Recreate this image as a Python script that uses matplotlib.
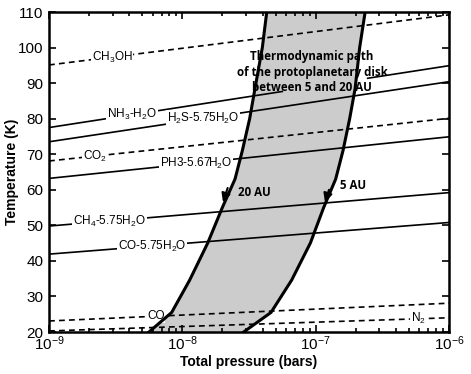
import numpy as np
import matplotlib
matplotlib.use("Agg")
import matplotlib.pyplot as plt
from matplotlib.ticker import LogLocator, MultipleLocator, NullFormatter

# condensation curves: straight lines in log P, given by T at 1e-9 and 1e-6 bar
LINE_LABELS = [
    r"CH$_3$OH",
    r"NH$_3$-H$_2$O",
    r"H$_2$S-5.75H$_2$O",
    r"CO$_2$",
    r"PH3-5.67H$_2$O",
    r"CH$_4$-5.75H$_2$O",
    r"CO-5.75H$_2$O",
    r"CO",
    r"N$_2$",
]
T_AT_LEFT = [95.1, 77.5, 73.5, 68.1, 63.2, 49.8, 41.9, 23.1, 20.3]
T_AT_RIGHT = [109.2, 94.9, 90.4, 80.1, 74.9, 59.2, 50.8, 28.1, 24.0]
DASHED = [True, False, False, True, False, False, False, True, True]
LABEL_LOGP = [-8.527, -8.377, -7.845, -8.655, -7.897, -8.546, -8.227, -8.2, -6.232]

# disk thermodynamic paths
PATH_T = [20, 25.5, 34.6, 45, 55, 63, 71, 80, 88.5, 100, 110]
LOGP_20AU = [-8.25, -8.08, -7.945, -7.81, -7.70, -7.605, -7.55, -7.495, -7.455, -7.40, -7.367]
LOGP_5AU = [-7.54, -7.335, -7.18, -7.04, -6.94, -6.85, -6.795, -6.745, -6.704, -6.67, -6.629]

LOGP_MIN, LOGP_MAX = -9.0, -6.0
FILL_COLOR = "#cccccc"

plt.rcParams.update(
    {
        "font.family": ["Liberation Sans", "DejaVu Sans"],
        "mathtext.fontset": "custom",
        "mathtext.rm": "Liberation Sans",
        "mathtext.it": "Liberation Sans:italic",
        "mathtext.bf": "Liberation Sans:bold",
        "mathtext.default": "regular",
        "font.size": 10,
    }
)


def line_T(i, logp):
    frac = (np.asarray(logp) - LOGP_MIN) / (LOGP_MAX - LOGP_MIN)
    return T_AT_LEFT[i] + (T_AT_RIGHT[i] - T_AT_LEFT[i]) * frac


fig = plt.figure(figsize=(4.71, 3.74), dpi=100)
ax = fig.add_axes([49 / 471, 1 - 332 / 374, 400 / 471, 320 / 374])

# shaded band between the two paths
poly_p = [10 ** v for v in LOGP_20AU] + [10 ** v for v in LOGP_5AU[::-1]]
poly_t = PATH_T + PATH_T[::-1]
ax.fill(poly_p, poly_t, color=FILL_COLOR, lw=0, zorder=1)

# condensation lines
for i, label in enumerate(LINE_LABELS):
    style = dict(color="black", lw=1.2, zorder=2)
    if DASHED[i]:
        style["dashes"] = (3.5, 2.5)
    if i == 1:
        # NH3 line passes behind the annotation text
        segments = [(LOGP_MIN, -7.25), (-6.61, LOGP_MAX)]
    else:
        segments = [(LOGP_MIN, LOGP_MAX)]
    for a, b in segments:
        ax.plot([10 ** a, 10 ** b], [line_T(i, a), line_T(i, b)], **style)
    ax.text(
        10 ** LABEL_LOGP[i], line_T(i, LABEL_LOGP[i]), label,
        ha="center", va="center", fontsize=8.5, zorder=3,
        bbox=dict(facecolor="white", edgecolor="none", pad=0.5),
    )

# thermodynamic paths
ax.plot([10 ** v for v in LOGP_20AU], PATH_T, color="black", lw=2.2, zorder=4)
ax.plot([10 ** v for v in LOGP_5AU], PATH_T, color="black", lw=2.2, zorder=4)

arrow = dict(arrowstyle="-|>", mutation_scale=13, color="black", lw=1.5,
             shrinkA=0, shrinkB=0)
ax.annotate("", xy=(10 ** -7.695, 56.5), xytext=(10 ** -7.66, 60.5), arrowprops=arrow, zorder=5)
ax.annotate("", xy=(10 ** -6.93, 56.5), xytext=(10 ** -6.90, 60.0), arrowprops=arrow, zorder=5)

bold_font = dict(family=["Open Sans", "DejaVu Sans"], fontweight="bold", fontsize=8.3)
ax.text(10 ** -7.458, 59.1, "20 AU", ha="center", va="center", zorder=5, **bold_font)
ax.text(10 ** -6.72, 61.1, "5 AU", ha="center", va="center", zorder=5, **bold_font)
ax.text(
    10 ** -7.027, 93.1,
    "Thermodynamic path\nof the protoplanetary disk\nbetween 5 and 20 AU",
    ha="center", va="center", linespacing=1.25, zorder=5, **bold_font,
)

ax.set_xscale("log")
ax.set_xlim(10 ** LOGP_MIN, 10 ** LOGP_MAX)
ax.set_ylim(20, 110)
ax.xaxis.set_major_locator(LogLocator(base=10, numticks=10))
ax.xaxis.set_minor_locator(LogLocator(base=10, subs=np.arange(2, 10), numticks=10))
ax.xaxis.set_minor_formatter(NullFormatter())
ax.yaxis.set_major_locator(MultipleLocator(10))

ax.tick_params(axis="both", which="both", direction="in", top=True, right=True, width=1.2)
ax.tick_params(axis="both", which="major", length=5, labelsize=11)
ax.tick_params(axis="x", which="minor", length=3)
ax.tick_params(axis="x", which="major", pad=2)
ax.tick_params(axis="y", which="major", pad=4)
for spine in ax.spines.values():
    spine.set_linewidth(1.8)

fig.text(249 / 471, 1 - 362 / 374, "Total pressure (bars)", ha="center", va="center",
         fontweight="bold", fontsize=10)
fig.text(12 / 471, 1 - 172 / 374, "Temperature (K)", ha="center", va="center",
         rotation=90, fontweight="bold", fontsize=10)

fig.savefig("out.png", dpi=100)
